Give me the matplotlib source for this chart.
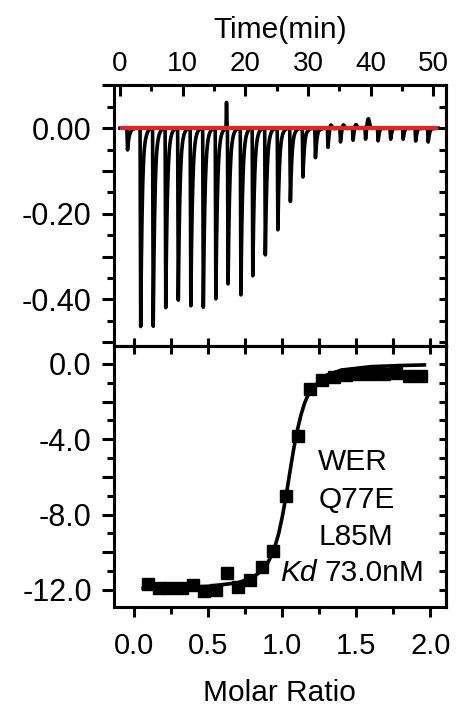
import numpy as np
import matplotlib
matplotlib.use('Agg')
import matplotlib.pyplot as plt
from matplotlib.ticker import MultipleLocator, FuncFormatter

plt.rcParams['font.family'] = ['Liberation Sans', 'DejaVu Sans']
plt.rcParams['axes.unicode_minus'] = False

# Raw thermogram: injection times (min), peak heights, small overshoots (ucal/s)
inj_time = [1.1, 3.2, 5.2, 7.2, 9.2, 11.2, 13.2, 15.2, 17.15, 19.2, 21.1, 23.1, 25.1,
            27.1, 29.1, 31.1, 33.1, 35.1, 37.1, 39.1, 41.1, 43.1, 45.1, 47.1, 49.1]
inj_peak = [-0.051, -0.470, -0.469, -0.425, -0.408, -0.422, -0.425, -0.403, -0.369,
            -0.390, -0.349, -0.298, -0.238, -0.172, -0.115, -0.070, -0.048, -0.035,
            -0.031, -0.031, -0.031, -0.027, -0.027, -0.031, -0.033]
inj_bump = [0.0, 0.015, 0.010, 0.005, 0.005, 0.004, 0.004, 0.005, 0.005, 0.004, 0.005,
            0.004, 0.004, 0.004, 0.004, 0.005, 0.017, 0.015, 0.015, 0.029, 0.006,
            0.005, 0.005, 0.005, 0.004]
spike_time = [17.0]
spike_height = [0.061]
baseline_span = [0.0, 50.8]

# Integrated heats (kcal/mol of injectant)
molar_ratio = [0.095, 0.169, 0.242, 0.320, 0.395, 0.474, 0.550, 0.625, 0.704, 0.783,
               0.862, 0.940, 1.024, 1.103, 1.184, 1.268, 1.346, 1.432, 1.516, 1.602,
               1.685, 1.771, 1.859, 1.940]
heat = [-11.69, -11.90, -11.90, -11.90, -11.76, -12.08, -12.00, -11.11, -11.82, -11.47,
        -10.76, -9.91, -7.00, -3.83, -1.32, -0.83, -0.71, -0.57, -0.53, -0.53,
        -0.53, -0.50, -0.65, -0.65]

# Fitted curve
fit_ratio = [0.06, 0.30, 0.50, 0.70, 0.80, 0.85, 0.90, 0.925, 0.95, 0.975, 1.00, 1.025,
             1.05, 1.075, 1.10, 1.125, 1.15, 1.175, 1.20, 1.30, 1.40, 1.60, 1.80, 1.96]
fit_heat = [-11.91, -11.87, -11.81, -11.62, -11.34, -11.05, -10.58, -10.20, -9.70, -9.02,
            -8.11, -7.03, -5.80, -4.60, -3.57, -2.74, -2.09, -1.63, -1.29, -0.59,
            -0.32, -0.14, -0.08, -0.05]

# Build thermogram trace from peaks
t = np.linspace(0, 50.8, 8000)
power = np.zeros_like(t)
for t0, h, b in zip(inj_time, inj_peak, inj_bump):
    dt = t - t0
    rise = 0.1
    peak = np.where(dt < 0, 0.0,
                    np.where(dt < rise, h * dt / rise, h * np.exp(-(dt - rise) / 0.28)))
    power += peak + b * np.exp(-((dt - 0.5) / 0.3) ** 2)
for t0, h in zip(spike_time, spike_height):
    power += h * np.exp(-((t - t0) / 0.05) ** 2)

fig = plt.figure(figsize=(4.76, 7.08), dpi=100)
ax1 = fig.add_axes([0.2395, 0.5113, 0.6969, 0.3687])
ax2 = fig.add_axes([0.2395, 0.1431, 0.6969, 0.3682])

lw = 2.2
for ax in (ax1, ax2):
    for s in ax.spines.values():
        s.set_linewidth(lw)

# Top panel
ax1.plot(t, power, color='black', lw=2.6)
ax1.hlines(0, baseline_span[0], baseline_span[1], color='#e8231f', lw=3.0, zorder=3)
ax1.set_xlim(-0.96, 52.0)
ax1.set_ylim(-0.509, 0.101)
ax1.xaxis.tick_top()
ax1.xaxis.set_label_position('top')
ax1.set_xlabel('Time(min)', fontsize=21.5, labelpad=9)
ax1.xaxis.set_major_locator(MultipleLocator(10))
ax1.xaxis.set_minor_locator(MultipleLocator(5))
ax1.yaxis.set_major_locator(MultipleLocator(0.1))
ax1.yaxis.set_minor_locator(MultipleLocator(0.05))
ax1.yaxis.set_major_formatter(FuncFormatter(
    lambda v, p: ('%.2f' % v).replace('-0.00', '0.00') if abs(round(v / 0.2) * 0.2 - v) < 1e-6 else ''))
ax1.tick_params(axis='x', which='both', direction='in', top=True, bottom=False,
                labelsize=20, pad=6, width=lw)
ax1.tick_params(axis='x', which='major', length=8)
ax1.tick_params(axis='x', which='minor', length=4)
ax1.tick_params(axis='y', which='both', direction='out', left=True, right=False,
                labelsize=22, pad=7, width=lw)
ax1.tick_params(axis='y', which='major', length=9)
ax1.tick_params(axis='y', which='minor', length=5)
ax1r = ax1.secondary_yaxis('right')
ax1r.yaxis.set_major_locator(MultipleLocator(0.1))
ax1r.yaxis.set_minor_locator(MultipleLocator(0.05))
ax1r.tick_params(which='both', direction='in', labelright=False, width=lw, length=5)
ax1r.spines['right'].set_linewidth(lw)

# Bottom panel
ax2.plot(fit_ratio, fit_heat, color='black', lw=2.6)
ax2.plot(molar_ratio, heat, 's', color='black', markersize=8.5)
ax2.set_xlim(-0.137, 2.104)
ax2.set_ylim(-12.89, 0.956)
ax2.set_xlabel('Molar Ratio', fontsize=21.5, labelpad=14)
ax2.xaxis.set_major_locator(MultipleLocator(0.5))
ax2.xaxis.set_minor_locator(MultipleLocator(0.25))
ax2.xaxis.set_major_formatter(FuncFormatter(lambda v, p: '%.1f' % v))
ax2.yaxis.set_major_locator(MultipleLocator(2))
ax2.yaxis.set_minor_locator(MultipleLocator(1))
ax2.yaxis.set_major_formatter(FuncFormatter(
    lambda v, p: ('%.1f' % v).replace('-0.0', '0.0') if round(v) % 4 == 0 else ''))
ax2.tick_params(axis='x', which='both', direction='out', bottom=True, top=False,
                labelsize=21, pad=11, width=lw)
ax2.tick_params(axis='x', which='major', length=7)
ax2.tick_params(axis='x', which='minor', length=5)
ax2.tick_params(axis='y', which='both', direction='out', left=True, right=False,
                labelsize=22, pad=7, width=lw)
ax2.tick_params(axis='y', which='major', length=9)
ax2.tick_params(axis='y', which='minor', length=5)
ax2t = ax2.secondary_xaxis('top')
ax2t.xaxis.set_major_locator(MultipleLocator(0.5))
ax2t.xaxis.set_minor_locator(MultipleLocator(0.25))
ax2t.tick_params(which='both', direction='inout', labeltop=False, width=lw, length=11)
ax2t.spines['top'].set_linewidth(lw)
ax2r = ax2.secondary_yaxis('right')
ax2r.yaxis.set_major_locator(MultipleLocator(1))
ax2r.tick_params(which='both', direction='in', labelright=False, width=lw, length=5)
ax2r.spines['right'].set_linewidth(lw)

ax2.text(0.616, 0.556, 'WER', transform=ax2.transAxes, fontsize=21.5, va='center', ha='left')
ax2.text(0.616, 0.409, 'Q77E', transform=ax2.transAxes, fontsize=21.5, va='center', ha='left')
ax2.text(0.616, 0.269, 'L85M', transform=ax2.transAxes, fontsize=21.5, va='center', ha='left')
ax2.text(0.500, 0.128, 'Kd', transform=ax2.transAxes, fontsize=21.5, va='center', ha='left',
         style='italic')
ax2.text(0.636, 0.128, '73.0nM', transform=ax2.transAxes, fontsize=21.5, va='center', ha='left')

fig.savefig('out.png', dpi=100)
